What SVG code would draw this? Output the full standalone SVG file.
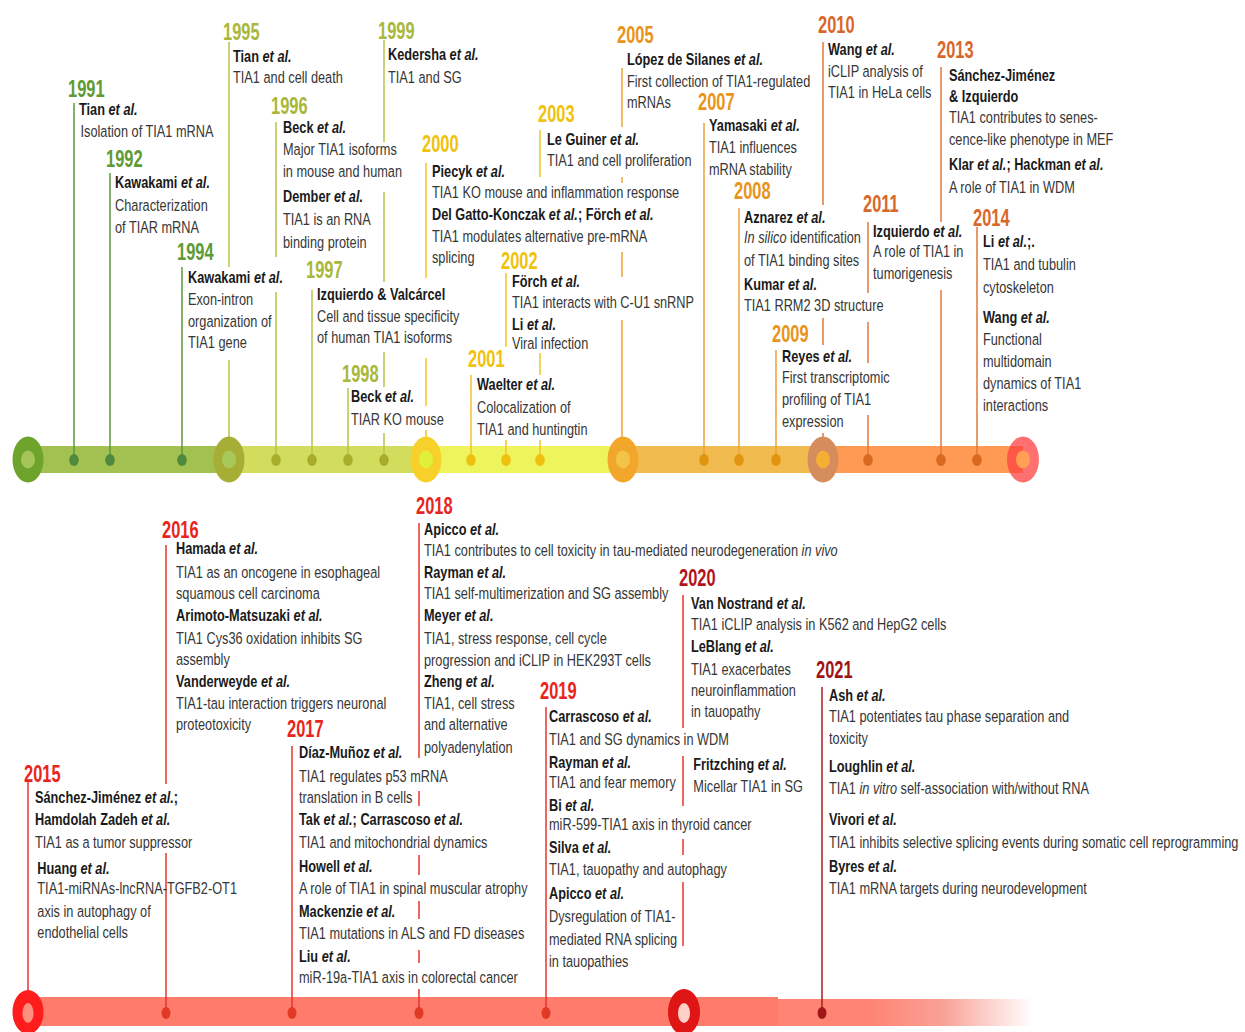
<svg xmlns="http://www.w3.org/2000/svg" width="1245" height="1032" viewBox="0 0 1245 1032">
<defs>
<style>
.yr{font-family:"Liberation Sans",Arial,sans-serif;font-size:23.5px;font-weight:bold}
.t{font-family:"Liberation Sans",Arial,sans-serif;font-size:16.5px;fill:#363636}
.b{font-weight:bold;fill:#1a1a1a}
.i{font-style:italic}
.c1{fill:#5e9a36}.c2{fill:#a9b83a}.c3{fill:#f0c20a}.c4{fill:#e8941a}.c5{fill:#d9672a}.c6{fill:#e8251c}.c7{fill:#b3141c}.c8{fill:#a01418}
.ln{fill:none;stroke-width:1.5}
.l1{stroke:#5f9a3c}.l2{stroke:#b9c24a}.l3{stroke:#f2c22c}.l4{stroke:#eda23a}.l5{stroke:#df7a3c}.l6{stroke:#e8352b}.l7{stroke:#a81c1c}
</style>
<linearGradient id="fade" x1="0" y1="0" x2="1" y2="0">
<stop offset="0" stop-color="#ff8474"/>
<stop offset="0.45" stop-color="#f9a196"/>
<stop offset="1" stop-color="#ffffff"/>
</linearGradient>
</defs>
<rect width="1245" height="1032" fill="#ffffff"/>

<g id="timeline-top">
<rect x="28" y="446" width="201" height="27" fill="#a3c150"/>
<rect x="229" y="446" width="197" height="27" fill="#d3dd5d"/>
<rect x="426" y="446" width="197" height="27" fill="#eef55c"/>
<rect x="623" y="446" width="200" height="27" fill="#f2bb4f"/>
<rect x="823" y="446" width="200" height="27" fill="#ff9a55"/>
</g>
<g id="timeline-bottom">
<rect x="28" y="997" width="750" height="29" fill="#ff7b6b"/>
<rect x="778" y="999" width="92" height="27" fill="#ff8474"/>
<rect x="870" y="999" width="162" height="27" fill="url(#fade)"/>
</g>

<g id="connectors">
<path class="ln l1" d="M74 103V460M110 173V460M182 267V460"/>
<path class="ln l2" d="M229 42V267M229 360V440M276 122V257M276 292V460M312 290V460M348 388V460M384 40V142M384 192V282M384 352V387M384 433V460"/>
<path class="ln l3" d="M426 163V278M426 358V406M426 430V440M471 375V460M506 273V347M506 440V460M540 130V177M540 353V375M540 440V460"/>
<path class="ln l4" d="M622 68V127M622 177V183M622 252V277M622 320V440M704 123V460M739 208V460M776 350V460"/>
<path class="ln l5" d="M823 42V205M823 318V345M823 433V440M868 222V293M868 322V363M868 415V460M941 67V222M941 290V460M977 227V460"/>
<path class="ln l6" d="M28 780V1000M166 545V784M166 853V1012M292 746V1012M419 523V758M419 791V806M419 855V875M419 901V919M419 950V963M419 989V1012M546 707V1012M683 595V728M683 756V806M683 839V855M683 882V946M683 989V1000"/>
<path class="ln l7" d="M822 687V1012"/>
</g>

<g id="markers-top">
<ellipse cx="28" cy="459.5" rx="15.5" ry="23" fill="#6ea32c"/><ellipse cx="28" cy="459.5" rx="7" ry="9" fill="#a5c45a"/>
<ellipse cx="229" cy="459.5" rx="15.5" ry="23" fill="#a6ae35"/><ellipse cx="229" cy="459.5" rx="7" ry="9" fill="#a8c95a"/>
<ellipse cx="426" cy="459.5" rx="15.5" ry="23" fill="#f8d02a"/><ellipse cx="426" cy="459.5" rx="7" ry="9" fill="#def03a"/>
<ellipse cx="623" cy="459.5" rx="15.5" ry="23" fill="#f2a72a"/><ellipse cx="623" cy="459.5" rx="7" ry="9" fill="#f2c548"/>
<ellipse cx="823" cy="459.5" rx="15.5" ry="23" fill="#d68d5e"/><ellipse cx="823" cy="459.5" rx="7" ry="9" fill="#f4ae33"/>
<ellipse cx="1023" cy="459.5" rx="16" ry="23" fill="#ff4040" fill-opacity="0.75"/><ellipse cx="1023" cy="459.5" rx="7" ry="9" fill="#ffa055"/>
<g fill="#4f8a3e"><ellipse cx="74" cy="460" rx="4.8" ry="6"/><ellipse cx="110" cy="460" rx="4.8" ry="6"/><ellipse cx="182" cy="460" rx="4.8" ry="6"/></g>
<g fill="#a8ad2c"><ellipse cx="276" cy="460" rx="4.8" ry="6"/><ellipse cx="312" cy="460" rx="4.8" ry="6"/><ellipse cx="348" cy="460" rx="4.8" ry="6"/><ellipse cx="384" cy="460" rx="4.8" ry="6"/></g>
<g fill="#f0c010"><ellipse cx="471" cy="460" rx="4.8" ry="6"/><ellipse cx="506" cy="460" rx="4.8" ry="6"/><ellipse cx="540" cy="460" rx="4.8" ry="6"/></g>
<g fill="#e0940f"><ellipse cx="704" cy="460" rx="4.8" ry="6"/><ellipse cx="739" cy="460" rx="4.8" ry="6"/><ellipse cx="776" cy="460" rx="4.8" ry="6"/></g>
<g fill="#d8691f"><ellipse cx="868" cy="460" rx="4.8" ry="6"/><ellipse cx="941" cy="460" rx="4.8" ry="6"/><ellipse cx="977" cy="460" rx="4.8" ry="6"/></g>
</g>
<g id="markers-bottom">
<ellipse cx="28" cy="1012" rx="15.5" ry="22" fill="#ff1c1c"/><ellipse cx="28" cy="1013" rx="5.5" ry="10" fill="#ff9080"/>
<ellipse cx="684" cy="1012" rx="16" ry="23" fill="#e01515"/><ellipse cx="684" cy="1013" rx="6" ry="10" fill="#ffd0c8"/>
<g fill="#e03a25"><ellipse cx="166" cy="1013" rx="4.5" ry="6"/><ellipse cx="292" cy="1013" rx="4.5" ry="6"/><ellipse cx="419" cy="1013" rx="4.5" ry="6"/><ellipse cx="546" cy="1013" rx="4.5" ry="6"/></g>
<ellipse cx="822" cy="1013" rx="4.5" ry="6" fill="#a01818"/>
</g>

<g id="n1991"><text class="yr c1" transform="translate(68,97) scale(.7,1)">1991</text>
<text class="t" transform="translate(79,0) scale(.773,1)"><tspan x="0" y="115" class="b">Tian <tspan class="i">et al.</tspan></tspan><tspan x="2" y="137">Isolation of TIA1 mRNA</tspan></text></g>

<g id="n1992"><text class="yr c1" transform="translate(106,167) scale(.7,1)">1992</text>
<text class="t" transform="translate(115,0) scale(.773,1)"><tspan x="0" y="188" class="b">Kawakami <tspan class="i">et al.</tspan></tspan><tspan x="0" y="211">Characterization</tspan><tspan x="0" y="233">of TIAR mRNA</tspan></text></g>

<g id="n1994"><text class="yr c1" transform="translate(177,260) scale(.7,1)">1994</text>
<text class="t" transform="translate(188,0) scale(.773,1)"><tspan x="0" y="283" class="b">Kawakami <tspan class="i">et al.</tspan></tspan><tspan x="0" y="305">Exon-intron</tspan><tspan x="0" y="327">organization of</tspan><tspan x="0" y="348">TIA1 gene</tspan></text></g>

<g id="n1995"><text class="yr c2" transform="translate(223,40) scale(.7,1)">1995</text>
<text class="t" transform="translate(233,0) scale(.773,1)"><tspan x="0" y="62" class="b">Tian <tspan class="i">et al.</tspan></tspan><tspan x="0" y="83">TIA1 and cell death</tspan></text></g>

<g id="n1996"><text class="yr c2" transform="translate(271,114) scale(.7,1)">1996</text>
<text class="t" transform="translate(283,0) scale(.773,1)"><tspan x="0" y="133" class="b">Beck <tspan class="i">et al.</tspan></tspan><tspan x="0" y="155">Major TIA1 isoforms</tspan><tspan x="0" y="177">in mouse and human</tspan><tspan x="0" y="202" class="b">Dember <tspan class="i">et al.</tspan></tspan><tspan x="0" y="225">TIA1 is an RNA</tspan><tspan x="0" y="248">binding protein</tspan></text></g>

<g id="n1997"><text class="yr c2" transform="translate(306,278) scale(.7,1)">1997</text>
<text class="t" transform="translate(317,0) scale(.773,1)"><tspan x="0" y="300" class="b">Izquierdo &amp; Valcárcel</tspan><tspan x="0" y="322">Cell and tissue specificity</tspan><tspan x="0" y="343">of human TIA1 isoforms</tspan></text></g>

<g id="n1998"><text class="yr c2" transform="translate(342,382) scale(.7,1)">1998</text>
<text class="t" transform="translate(351,0) scale(.773,1)"><tspan x="0" y="402" class="b">Beck <tspan class="i">et al.</tspan></tspan><tspan x="0" y="425">TIAR KO mouse</tspan></text></g>

<g id="n1999"><text class="yr c2" transform="translate(378,39) scale(.7,1)">1999</text>
<text class="t" transform="translate(388,0) scale(.773,1)"><tspan x="0" y="60" class="b">Kedersha <tspan class="i">et al.</tspan></tspan><tspan x="0" y="83">TIA1 and SG</tspan></text></g>

<g id="n2000"><text class="yr c3" transform="translate(422,152) scale(.7,1)">2000</text>
<text class="t" transform="translate(432,0) scale(.773,1)"><tspan x="0" y="177" class="b">Piecyk <tspan class="i">et al.</tspan></tspan><tspan x="0" y="198">TIA1 KO mouse and inflammation response</tspan><tspan x="0" y="220" class="b">Del Gatto-Konczak <tspan class="i">et al.</tspan>; Förch <tspan class="i">et al.</tspan></tspan><tspan x="0" y="242">TIA1 modulates alternative pre-mRNA</tspan><tspan x="0" y="263">splicing</tspan></text></g>

<g id="n2001"><text class="yr c3" transform="translate(468,367) scale(.7,1)">2001</text>
<text class="t" transform="translate(477,0) scale(.773,1)"><tspan x="0" y="390" class="b">Waelter <tspan class="i">et al.</tspan></tspan><tspan x="0" y="413">Colocalization of</tspan><tspan x="0" y="435">TIA1 and huntingtin</tspan></text></g>

<g id="n2002"><text class="yr c3" transform="translate(501,269) scale(.7,1)">2002</text>
<text class="t" transform="translate(512,0) scale(.773,1)"><tspan x="0" y="287" class="b">Förch <tspan class="i">et al.</tspan></tspan><tspan x="0" y="308">TIA1 interacts with C-U1 snRNP</tspan><tspan x="0" y="330" class="b">Li <tspan class="i">et al.</tspan></tspan><tspan x="0" y="349">Viral infection</tspan></text></g>

<g id="n2003"><text class="yr c3" transform="translate(538,122) scale(.7,1)">2003</text>
<text class="t" transform="translate(547,0) scale(.773,1)"><tspan x="0" y="145" class="b">Le Guiner <tspan class="i">et al.</tspan></tspan><tspan x="0" y="166">TIA1 and cell proliferation</tspan></text></g>

<g id="n2005"><text class="yr c4" transform="translate(617,43) scale(.7,1)">2005</text>
<text class="t" transform="translate(627,0) scale(.773,1)"><tspan x="0" y="65" class="b">López de Silanes <tspan class="i">et al.</tspan></tspan><tspan x="0" y="87">First collection of TIA1-regulated</tspan><tspan x="0" y="108">mRNAs</tspan></text></g>

<g id="n2007"><text class="yr c4" transform="translate(698,110) scale(.7,1)">2007</text>
<text class="t" transform="translate(709,0) scale(.773,1)"><tspan x="0" y="131" class="b">Yamasaki <tspan class="i">et al.</tspan></tspan><tspan x="0" y="153">TIA1 influences</tspan><tspan x="0" y="175">mRNA stability</tspan></text></g>

<g id="n2008"><text class="yr c4" transform="translate(734,199) scale(.7,1)">2008</text>
<text class="t" transform="translate(744,0) scale(.773,1)"><tspan x="0" y="223" class="b">Aznarez <tspan class="i">et al.</tspan></tspan><tspan x="0" y="243"><tspan class="i">In silico</tspan> identification</tspan><tspan x="0" y="266">of TIA1 binding sites</tspan><tspan x="0" y="290" class="b">Kumar <tspan class="i">et al.</tspan></tspan><tspan x="0" y="311">TIA1 RRM2 3D structure</tspan></text></g>

<g id="n2009"><text class="yr c4" transform="translate(772,342) scale(.7,1)">2009</text>
<text class="t" transform="translate(782,0) scale(.773,1)"><tspan x="0" y="362" class="b">Reyes <tspan class="i">et al.</tspan></tspan><tspan x="0" y="383">First transcriptomic</tspan><tspan x="0" y="405">profiling of TIA1</tspan><tspan x="0" y="427">expression</tspan></text></g>

<g id="n2010"><text class="yr c5" transform="translate(818,33) scale(.7,1)">2010</text>
<text class="t" transform="translate(828,0) scale(.773,1)"><tspan x="0" y="55" class="b">Wang <tspan class="i">et al.</tspan></tspan><tspan x="0" y="77">iCLIP analysis of</tspan><tspan x="0" y="98">TIA1 in HeLa cells</tspan></text></g>

<g id="n2011"><text class="yr c5" transform="translate(863,212) scale(.7,1)">2011</text>
<text class="t" transform="translate(873,0) scale(.773,1)"><tspan x="0" y="237" class="b">Izquierdo <tspan class="i">et al.</tspan></tspan><tspan x="0" y="257">A role of TIA1 in</tspan><tspan x="0" y="279">tumorigenesis</tspan></text></g>

<g id="n2013"><text class="yr c5" transform="translate(937,58) scale(.7,1)">2013</text>
<text class="t" transform="translate(949,0) scale(.773,1)"><tspan x="0" y="81" class="b">Sánchez-Jiménez</tspan><tspan x="0" y="102" class="b">&amp; Izquierdo</tspan><tspan x="0" y="123">TIA1 contributes to senes-</tspan><tspan x="0" y="145">cence-like phenotype in MEF</tspan><tspan x="0" y="170" class="b">Klar <tspan class="i">et al.</tspan>; Hackman <tspan class="i">et al.</tspan></tspan><tspan x="0" y="193">A role of TIA1 in WDM</tspan></text></g>

<g id="n2014"><text class="yr c5" transform="translate(973,226) scale(.7,1)">2014</text>
<text class="t" transform="translate(983,0) scale(.773,1)"><tspan x="0" y="247" class="b">Li <tspan class="i">et al.</tspan>;.</tspan><tspan x="0" y="270">TIA1 and tubulin</tspan><tspan x="0" y="293">cytoskeleton</tspan><tspan x="0" y="323" class="b">Wang <tspan class="i">et al.</tspan></tspan><tspan x="0" y="345">Functional</tspan><tspan x="0" y="367">multidomain</tspan><tspan x="0" y="389">dynamics of TIA1</tspan><tspan x="0" y="411">interactions</tspan></text></g>

<g id="n2015"><text class="yr c6" transform="translate(24,782) scale(.7,1)">2015</text>
<text class="t" transform="translate(35,0) scale(.773,1)"><tspan x="0" y="803" class="b">Sánchez-Jiménez <tspan class="i">et al.</tspan>;</tspan><tspan x="0" y="825" class="b">Hamdolah Zadeh <tspan class="i">et al.</tspan></tspan><tspan x="0" y="848">TIA1 as a tumor suppressor</tspan><tspan x="3" y="874" class="b">Huang <tspan class="i">et al.</tspan></tspan><tspan x="3" y="894">TIA1-miRNAs-lncRNA-TGFB2-OT1</tspan><tspan x="3" y="917">axis in autophagy of</tspan><tspan x="3" y="938">endothelial cells</tspan></text></g>

<g id="n2016"><text class="yr c6" transform="translate(162,538) scale(.7,1)">2016</text>
<text class="t" transform="translate(176,0) scale(.773,1)"><tspan x="0" y="554" class="b">Hamada <tspan class="i">et al.</tspan></tspan><tspan x="0" y="578">TIA1 as an oncogene in esophageal</tspan><tspan x="0" y="599">squamous cell carcinoma</tspan><tspan x="0" y="621" class="b">Arimoto-Matsuzaki <tspan class="i">et al.</tspan></tspan><tspan x="0" y="644">TIA1 Cys36 oxidation inhibits SG</tspan><tspan x="0" y="665">assembly</tspan><tspan x="0" y="687" class="b">Vanderweyde <tspan class="i">et al.</tspan></tspan><tspan x="0" y="709">TIA1-tau interaction triggers neuronal</tspan><tspan x="0" y="730">proteotoxicity</tspan></text></g>

<g id="n2017"><text class="yr c6" transform="translate(287,737) scale(.7,1)">2017</text>
<text class="t" transform="translate(299,0) scale(.773,1)"><tspan x="0" y="758" class="b">Díaz-Muñoz <tspan class="i">et al.</tspan></tspan><tspan x="0" y="782">TIA1 regulates p53 mRNA</tspan><tspan x="0" y="803">translation in B cells</tspan><tspan x="0" y="825" class="b">Tak <tspan class="i">et al.</tspan>; Carrascoso <tspan class="i">et al.</tspan></tspan><tspan x="0" y="848">TIA1 and mitochondrial dynamics</tspan><tspan x="0" y="872" class="b">Howell <tspan class="i">et al.</tspan></tspan><tspan x="0" y="894">A role of TIA1 in spinal muscular atrophy</tspan><tspan x="0" y="917" class="b">Mackenzie <tspan class="i">et al.</tspan></tspan><tspan x="0" y="939">TIA1 mutations in ALS and FD diseases</tspan><tspan x="0" y="962" class="b">Liu <tspan class="i">et al.</tspan></tspan><tspan x="0" y="983">miR-19a-TIA1 axis in colorectal cancer</tspan></text></g>

<g id="n2018"><text class="yr c6" transform="translate(416,514) scale(.7,1)">2018</text>
<text class="t" transform="translate(424,0) scale(.773,1)"><tspan x="0" y="535" class="b">Apicco <tspan class="i">et al.</tspan></tspan><tspan x="0" y="556">TIA1 contributes to cell toxicity in tau-mediated neurodegeneration <tspan class="i">in vivo</tspan></tspan><tspan x="0" y="578" class="b">Rayman <tspan class="i">et al.</tspan></tspan><tspan x="0" y="599">TIA1 self-multimerization and SG assembly</tspan><tspan x="0" y="621" class="b">Meyer <tspan class="i">et al.</tspan></tspan><tspan x="0" y="644">TIA1, stress response, cell cycle</tspan><tspan x="0" y="666">progression and iCLIP in HEK293T cells</tspan><tspan x="0" y="687" class="b">Zheng <tspan class="i">et al.</tspan></tspan><tspan x="0" y="709">TIA1, cell stress</tspan><tspan x="0" y="730">and alternative</tspan><tspan x="0" y="753">polyadenylation</tspan></text></g>

<g id="n2019"><text class="yr c6" transform="translate(540,699) scale(.7,1)">2019</text>
<text class="t" transform="translate(549,0) scale(.773,1)"><tspan x="0" y="722" class="b">Carrascoso <tspan class="i">et al.</tspan></tspan><tspan x="0" y="745">TIA1 and SG dynamics in WDM</tspan><tspan x="0" y="768" class="b">Rayman <tspan class="i">et al.</tspan></tspan><tspan x="0" y="788">TIA1 and fear memory</tspan><tspan x="0" y="811" class="b">Bi <tspan class="i">et al.</tspan></tspan><tspan x="0" y="830">miR-599-TIA1 axis in thyroid cancer</tspan><tspan x="0" y="853" class="b">Silva <tspan class="i">et al.</tspan></tspan><tspan x="0" y="875">TIA1, tauopathy and autophagy</tspan><tspan x="0" y="899" class="b">Apicco <tspan class="i">et al.</tspan></tspan><tspan x="0" y="922">Dysregulation of TIA1-</tspan><tspan x="0" y="945">mediated RNA splicing</tspan><tspan x="0" y="967">in tauopathies</tspan></text></g>

<g id="n2020"><text class="yr c7" transform="translate(679,586) scale(.7,1)">2020</text>
<text class="t" transform="translate(691,0) scale(.773,1)"><tspan x="0" y="609" class="b">Van Nostrand <tspan class="i">et al.</tspan></tspan><tspan x="0" y="630">TIA1 iCLIP analysis in K562 and HepG2 cells</tspan><tspan x="0" y="652" class="b">LeBlang <tspan class="i">et al.</tspan></tspan><tspan x="0" y="675">TIA1 exacerbates</tspan><tspan x="0" y="696">neuroinflammation</tspan><tspan x="0" y="717">in tauopathy</tspan><tspan x="3" y="770" class="b">Fritzching <tspan class="i">et al.</tspan></tspan><tspan x="3" y="792">Micellar TIA1 in SG</tspan></text></g>

<g id="n2021"><text class="yr c8" transform="translate(816,678) scale(.7,1)">2021</text>
<text class="t" transform="translate(829,0) scale(.773,1)"><tspan x="0" y="701" class="b">Ash <tspan class="i">et al.</tspan></tspan><tspan x="0" y="722">TIA1 potentiates tau phase separation and</tspan><tspan x="0" y="744">toxicity</tspan><tspan x="0" y="772" class="b">Loughlin <tspan class="i">et al.</tspan></tspan><tspan x="0" y="794">TIA1 <tspan class="i">in vitro</tspan> self-association with/without RNA</tspan><tspan x="0" y="825" class="b">Vivori <tspan class="i">et al.</tspan></tspan><tspan x="0" y="848">TIA1 inhibits selective splicing events during somatic cell reprogramming</tspan><tspan x="0" y="872" class="b">Byres <tspan class="i">et al.</tspan></tspan><tspan x="0" y="894">TIA1 mRNA targets during neurodevelopment</tspan></text></g>
</svg>
